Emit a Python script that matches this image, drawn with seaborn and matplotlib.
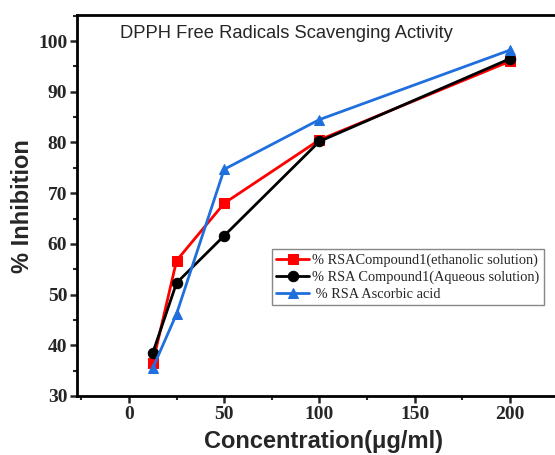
import matplotlib
matplotlib.use("Agg")
import matplotlib.pyplot as plt
import seaborn as sns
import pandas as pd
from matplotlib.ticker import MultipleLocator

conc = [12.5, 25, 50, 100, 200]
ethanolic = [36.5, 56.7, 68.0, 80.5, 96.0]
aqueous = [38.5, 52.3, 61.6, 80.2, 96.5]
ascorbic = [35.5, 46.2, 74.7, 84.5, 98.2]
labels = ["% RSACompound1(ethanolic solution)",
          "% RSA Compound1(Aqueous solution)",
          " % RSA Ascorbic acid"]
colors = ["#ff0000", "#000000", "#1f6fdc"]
markers = ["s", "o", "^"]
xticks = [0, 50, 100, 150, 200]
yticks = [30, 40, 50, 60, 70, 80, 90, 100]

sns.set_style("ticks")
fig = plt.figure(figsize=(5.55, 4.55), dpi=100)
ax = fig.add_axes([0.1387, 0.1297, 0.888, 0.837])

for vals, lab, c, m in zip([ethanolic, aqueous, ascorbic], labels, colors, markers):
    df = pd.DataFrame({"x": conc, "y": vals})
    sns.lineplot(data=df, x="x", y="y", ax=ax, color=c, marker=m, markersize=7.5,
                 markeredgecolor=c, linewidth=2, label=lab)

ax.set_xlim(-27.3, 231.5)
ax.set_ylim(30, 105.1)
ax.set_xticks(xticks)
ax.set_yticks(yticks)
ax.xaxis.set_minor_locator(MultipleLocator(25))
ax.yaxis.set_minor_locator(MultipleLocator(5))
for lab in ax.get_xticklabels() + ax.get_yticklabels():
    lab.set_fontfamily("Liberation Serif")
    lab.set_fontweight("bold")
    lab.set_fontsize(14)
ax.tick_params(which="major", direction="out", length=5, width=1.8, pad=2,
               top=False, right=False)
ax.tick_params(which="minor", direction="out", length=3, width=1.5,
               top=False, right=False)
for s in ["left", "bottom", "top", "right"]:
    ax.spines[s].set_visible(True)
    ax.spines[s].set_linewidth(2)
    ax.spines[s].set_color("black")

ax.set_xlabel("Concentration(μg/ml)", fontfamily="Liberation Sans", fontweight="bold",
              fontsize=17, labelpad=5)
ax.set_ylabel("% Inhibition", fontfamily="Liberation Sans", fontweight="bold",
              fontsize=17, labelpad=3)
ax.text(0.088, 0.951, "DPPH Free Radicals Scavenging Activity", transform=ax.transAxes,
        fontfamily="Liberation Sans", fontsize=13.2, va="center", ha="left")

leg = ax.legend(loc="upper left", bbox_to_anchor=(0.395, 0.386), frameon=True,
                fancybox=False, edgecolor="#888888", framealpha=1,
                prop={"family": "Liberation Serif", "size": 10.4},
                handlelength=2.3, handletextpad=0.2, borderpad=0.3, labelspacing=0.25,
                borderaxespad=0)
leg.get_frame().set_linewidth(1)

fig.savefig("out.png", dpi=100)
